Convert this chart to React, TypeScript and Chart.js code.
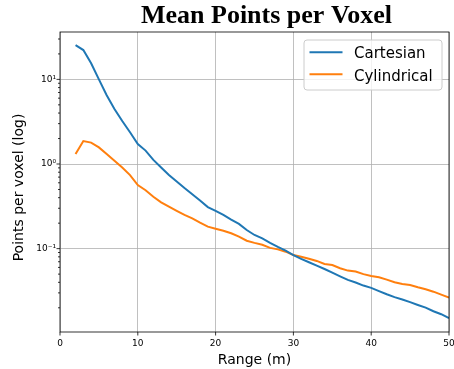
import React, { useEffect, useRef } from "react";
import { Chart, registerables } from "chart.js";

Chart.register(...registerables);

const ranges = [2, 3, 4, 5, 6, 7, 8, 9, 10, 11, 12, 13, 14, 15, 16, 17, 18, 19, 20, 21, 22, 23, 24, 25, 26, 27, 28, 29, 30, 31, 32, 33, 34, 35, 36, 37, 38, 39, 40, 41, 42, 43, 44, 45, 46, 47, 48, 49, 50];

const cartesian = [25.4, 22.2, 15.5, 10.0, 6.5, 4.46, 3.22, 2.37, 1.72, 1.44, 1.12, 0.91, 0.74, 0.62, 0.52, 0.44, 0.37, 0.31, 0.28, 0.25, 0.22, 0.196, 0.166, 0.145, 0.132, 0.117, 0.105, 0.095, 0.084, 0.0755, 0.069, 0.063, 0.0575, 0.052, 0.047, 0.0427, 0.0398, 0.0366, 0.0344, 0.0315, 0.0289, 0.0267, 0.0251, 0.0233, 0.0216, 0.0201, 0.0182, 0.0168, 0.0151];

const cylindrical = [1.31, 1.87, 1.79, 1.57, 1.31, 1.09, 0.91, 0.74, 0.565, 0.49, 0.41, 0.353, 0.313, 0.279, 0.25, 0.228, 0.203, 0.182, 0.172, 0.163, 0.152, 0.139, 0.124, 0.117, 0.111, 0.102, 0.098, 0.092, 0.084, 0.08, 0.076, 0.0716, 0.066, 0.064, 0.0587, 0.055, 0.0536, 0.05, 0.0476, 0.0459, 0.043, 0.04, 0.0383, 0.0372, 0.035, 0.0331, 0.031, 0.0286, 0.0264];

const seriesNames = ["Cartesian", "Cylindrical"];
const seriesColors = ["#1f77b4", "#ff7f0e"];

const xTicks = [0, 10, 20, 30, 40, 50];
const yMajorTicks = [0.1, 1, 10];
const yMajorLabels = ["10\u207B\u00B9", "10\u2070", "10\u00B9"];

const titleText = "Mean Points per Voxel";
const xTitle = "Range (m)";
const yTitle = "Points per voxel (log)";

const SANS = "'DejaVu Sans', sans-serif";

const mplPlugin = {
  id: "mplDecor",
  afterDraw(chart: any) {
    const { ctx, chartArea: a, scales } = chart;
    const ys = scales.y;
    const xs = scales.x;
    ctx.save();
    // spines
    ctx.strokeStyle = "#000";
    ctx.lineWidth = 0.8;
    ctx.strokeRect(a.left, a.top, a.right - a.left, a.bottom - a.top);
    // x tick marks
    ctx.beginPath();
    xTicks.forEach((v) => {
      const px = xs.getPixelForValue(v);
      ctx.moveTo(px, a.bottom);
      ctx.lineTo(px, a.bottom + 3.5);
    });
    // y tick marks (major + minor)
    for (let n = -3; n <= 2; n++) {
      for (let k = 1; k <= 9; k++) {
        const v = k * Math.pow(10, n);
        if (v < ys.min || v > ys.max) continue;
        const py = ys.getPixelForValue(v);
        const len = k === 1 ? 3.5 : 2;
        ctx.moveTo(a.left - len, py);
        ctx.lineTo(a.left, py);
      }
    }
    ctx.stroke();

    // title
    ctx.fillStyle = "#000";
    ctx.font = "bold 26px 'Liberation Serif', 'Times New Roman', serif";
    ctx.textAlign = "center";
    ctx.textBaseline = "alphabetic";
    ctx.fillText(titleText, 266.5, 23);

    // y axis title
    ctx.save();
    ctx.translate(19.5, 187.5);
    ctx.rotate(-Math.PI / 2);
    ctx.font = "14px " + SANS;
    ctx.textAlign = "center";
    ctx.textBaseline = "middle";
    ctx.fillText(yTitle, 0, 0);
    ctx.restore();

    // legend
    const lx = 304, ly = 40, lw = 138, lh = 50, r = 3;
    ctx.beginPath();
    ctx.moveTo(lx + r, ly);
    ctx.lineTo(lx + lw - r, ly);
    ctx.arcTo(lx + lw, ly, lx + lw, ly + r, r);
    ctx.lineTo(lx + lw, ly + lh - r);
    ctx.arcTo(lx + lw, ly + lh, lx + lw - r, ly + lh, r);
    ctx.lineTo(lx + r, ly + lh);
    ctx.arcTo(lx, ly + lh, lx, ly + lh - r, r);
    ctx.lineTo(lx, ly + r);
    ctx.arcTo(lx, ly, lx + r, ly, r);
    ctx.closePath();
    ctx.fillStyle = "rgba(255,255,255,0.8)";
    ctx.fill();
    ctx.strokeStyle = "#cccccc";
    ctx.lineWidth = 1;
    ctx.stroke();

    const rowY = [52.3, 74.3];
    const baseY = [58.3, 80.5];
    seriesNames.forEach((name, i) => {
      ctx.beginPath();
      ctx.strokeStyle = seriesColors[i];
      ctx.lineWidth = 2;
      ctx.moveTo(309.5, rowY[i]);
      ctx.lineTo(342.5, rowY[i]);
      ctx.stroke();
      ctx.fillStyle = "#000";
      ctx.font = "15px " + SANS;
      ctx.textAlign = "left";
      ctx.textBaseline = "alphabetic";
      ctx.fillText(name, 354, baseY[i]);
    });
    ctx.restore();
  },
};

export default function App() {
  const canvasRef = useRef<HTMLCanvasElement | null>(null);

  useEffect(() => {
    document.body.style.margin = "0";
    const canvas = canvasRef.current;
    if (!canvas) return;
    const chart = new Chart(canvas, {
      type: "line",
      data: {
        datasets: [
          {
            label: seriesNames[0],
            data: ranges.map((x, i) => ({ x, y: cartesian[i] })),
            borderColor: seriesColors[0],
            backgroundColor: seriesColors[0],
            borderWidth: 2,
            pointRadius: 0,
            tension: 0,
          },
          {
            label: seriesNames[1],
            data: ranges.map((x, i) => ({ x, y: cylindrical[i] })),
            borderColor: seriesColors[1],
            backgroundColor: seriesColors[1],
            borderWidth: 2,
            pointRadius: 0,
            tension: 0,
          },
        ],
      },
      options: {
        animation: false,
        responsive: true,
        maintainAspectRatio: false,
        devicePixelRatio: 1,
        layout: { padding: { top: 32, right: 5, left: 0, bottom: 0 } },
        plugins: {
          legend: { display: false },
          title: { display: false },
          tooltip: { enabled: false },
        },
        scales: {
          x: {
            type: "linear",
            min: 0,
            max: 50,
            afterBuildTicks: (scale: any) => {
              scale.ticks = xTicks.map((v) => ({ value: v }));
            },
            afterFit: (scale: any) => {
              scale.height = 37;
              scale.paddingLeft = 0;
              scale.paddingRight = 0;
            },
            grid: { color: "#b0b0b0", lineWidth: 0.8, drawTicks: false },
            border: { display: false },
            ticks: {
              autoSkip: false,
              maxRotation: 0,
              padding: 6,
              color: "#000",
              font: { family: SANS, size: 9 },
              callback: (v: any) => String(v),
            },
            title: {
              display: true,
              text: xTitle,
              color: "#000",
              font: { family: SANS, size: 14 },
              padding: { top: 0, bottom: 0 },
            },
          },
          y: {
            type: "logarithmic",
            min: 0.01035,
            max: 36.3,
            afterBuildTicks: (scale: any) => {
              scale.ticks = yMajorTicks.map((v) => ({ value: v }));
            },
            afterFit: (scale: any) => {
              scale.width = 60;
              scale.paddingTop = 0;
              scale.paddingBottom = 0;
            },
            grid: { color: "#b0b0b0", lineWidth: 0.8, drawTicks: false },
            border: { display: false },
            ticks: {
              autoSkip: false,
              padding: 4,
              color: "#000",
              font: { family: SANS, size: 9 },
              callback: (v: any) => {
                const idx = yMajorTicks.findIndex((t) => Math.abs(t - Number(v)) < 1e-9);
                return idx >= 0 ? yMajorLabels[idx] : "";
              },
            },
            title: { display: false },
          },
        },
      },
      plugins: [mplPlugin],
    } as any);
    return () => chart.destroy();
  }, []);

  return (
    <div style={{ position: "fixed", left: 0, top: 0, width: 454, height: 369, background: "#fff" }}>
      <canvas ref={canvasRef} />
    </div>
  );
}
